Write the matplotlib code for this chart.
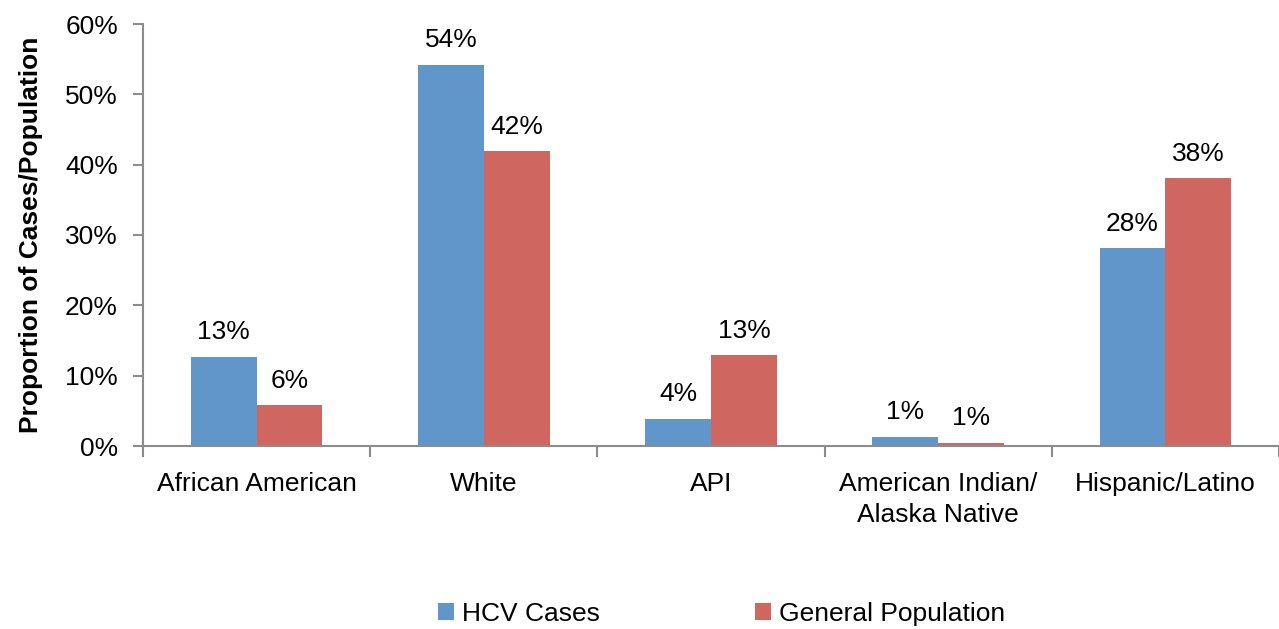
import matplotlib.pyplot as plt
import numpy as np

plt.rcParams['font.family'] = ['Liberation Sans', 'DejaVu Sans']

categorias = ["African American", "White", "API", "American Indian/\nAlaska Native", "Hispanic/Latino"]
hcv = [12.7, 54.2, 3.9, 1.3, 28.1]
populacao = [5.8, 41.9, 12.9, 0.45, 38.1]
rotulos_hcv = ["13%", "54%", "4%", "1%", "28%"]
rotulos_pop = ["6%", "42%", "13%", "1%", "38%"]
serie_nomes = ["HCV Cases", "General Population"]

azul = "#6096C9"
vermelho = "#CF6660"
cinza = "#8C8C8C"
fs = 19

fig = plt.figure(figsize=(12.79, 6.29), dpi=100)
ax = fig.add_axes([143/1279, (629-446)/629, (1279-143)/1279, (446-24)/629])

x = np.arange(len(categorias))
w = 0.29
b1 = ax.bar(x - w/2, hcv, w, color=azul, label=serie_nomes[0])
b2 = ax.bar(x + w/2, populacao, w, color=vermelho, label=serie_nomes[1])

for barras, rotulos in [(b1, rotulos_hcv), (b2, rotulos_pop)]:
    for b, r in zip(barras, rotulos):
        ax.annotate(r, (b.get_x() + b.get_width()/2, b.get_height()),
                    xytext=(0, 9), textcoords="offset points",
                    ha="center", va="bottom", fontsize=fs)

ax.set_xlim(-0.5, len(categorias) - 0.5)
ax.set_ylim(0, 60)
ax.set_yticks(np.arange(0, 61, 10))
ax.set_yticklabels([f"{v}%" for v in range(0, 61, 10)], fontsize=fs)
ax.set_xticks(x)
ax.set_xticklabels(categorias, fontsize=fs, linespacing=1.35)
ax.set_xticks(np.arange(-0.5, len(categorias)), minor=True)
ax.tick_params(axis="x", which="major", length=0, pad=19)
ax.tick_params(axis="x", which="minor", length=8, color=cinza, width=1.5)
ax.tick_params(axis="y", length=7, color=cinza, width=1.5, pad=11)

for lado in ["top", "right"]:
    ax.spines[lado].set_visible(False)
for lado in ["left", "bottom"]:
    ax.spines[lado].set_color(cinza)
    ax.spines[lado].set_linewidth(1.5)

ax.set_ylabel("Proportion of Cases/Population", fontsize=fs, fontweight="bold", labelpad=16)

fig.legend(loc="lower center", bbox_to_anchor=(0.564, -0.033), ncol=2, frameon=False,
           fontsize=fs, handlelength=0.6, handleheight=0.6, handletextpad=0.3,
           columnspacing=5.9)

fig.savefig("out.png", dpi=100)
